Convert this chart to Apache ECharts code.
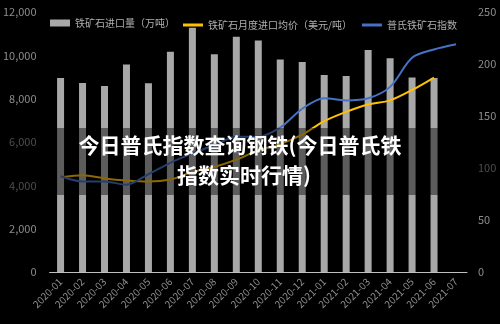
<!DOCTYPE html>
<html>
<head>
<meta charset="utf-8">
<script src="https://cdn.jsdelivr.net/npm/echarts@6/dist/echarts.min.js"></script>
<style>
  html, body { margin: 0; padding: 0; background: #000; }
  #main { width: 500px; height: 324px; }
</style>
</head>
<body>
<div id="main"></div>
<script>
// 月份
const months = ['2020-01', '2020-02', '2020-03', '2020-04', '2020-05', '2020-06', '2020-07',
  '2020-08', '2020-09', '2020-10', '2020-11', '2020-12', '2021-01', '2021-02', '2021-03',
  '2021-04', '2021-05', '2021-06', '2021-07'];
// 铁矿石进口量（万吨）
const importVolume = [8950, 8720, 8580, 9580, 8710, 10170, 11270, 10050, 10860, 10680,
  9810, 9690, 9090, 9050, 10250, 9860, 8980, 8950, null];
// 铁矿石月度进口均价（美元/吨）
const avgPrice = [91, 93, 90, 88, 87, 89, 96, 101, 108, 117, 123, 132, 145, 154, 161, 165, 175, 187, null];
// 普氏铁矿石指数
const plattsIndex = [92, 87, 87, 84, 94, 105, 114, 122, 130, 130, 139, 157, 167, 165, 167, 178, 206, 214, 219];

const leftTicks = { min: 0, max: 12000, interval: 2000 };
const rightTicks = { min: 0, max: 250, interval: 50 };

const chart = echarts.init(document.getElementById('main'));
const labelColor = '#8c8c8c';
const titleFont = 'bold 21px "Noto Sans CJK SC"';
const legendText = { color: '#b0b0b0', fontSize: 10 };
const option = {
  backgroundColor: '#000',
  animation: false,
  textStyle: { fontFamily: '"Noto Sans CJK SC", sans-serif' },
  grid: { left: 45, right: 33, top: 12, bottom: 52 },
  legend: [
    {
      top: 13,
      left: 45,
      itemWidth: 20,
      itemHeight: 7,
      icon: 'rect',
      textStyle: legendText,
      data: ['铁矿石进口量（万吨）']
    },
    {
      // 折线图例只画一条线
      top: 15,
      left: 178,
      itemWidth: 20,
      itemHeight: 3,
      itemGap: 10,
      icon: 'rect',
      textStyle: legendText,
      data: ['铁矿石月度进口均价（美元/吨）', '普氏铁矿石指数']
    }
  ],
  xAxis: {
    type: 'category',
    data: months,
    axisLine: { lineStyle: { color: '#bfbfbf', width: 1 } },
    axisTick: { show: false },
    axisLabel: { color: labelColor, fontSize: 10, rotate: 45, interval: 0, margin: 8 }
  },
  yAxis: [
    {
      type: 'value',
      min: leftTicks.min, max: leftTicks.max, interval: leftTicks.interval,
      splitLine: { show: false },
      axisLine: { show: false },
      axisLabel: { color: labelColor, fontSize: 11, margin: 13,
        formatter: v => v.toLocaleString('en-US') }
    },
    {
      type: 'value',
      min: rightTicks.min, max: rightTicks.max, interval: rightTicks.interval,
      splitLine: { show: false },
      axisLine: { show: false },
      axisLabel: { color: labelColor, fontSize: 11, margin: 11 }
    }
  ],
  series: [
    {
      name: '铁矿石进口量（万吨）',
      type: 'bar',
      data: importVolume,
      barWidth: 7,
      itemStyle: { color: '#a8a8a8' }
    },
    {
      name: '铁矿石月度进口均价（美元/吨）',
      type: 'line',
      yAxisIndex: 1,
      data: avgPrice,
      smooth: 0.3,
      symbol: 'none',
      lineStyle: { color: '#ffc000', width: 2 },
      itemStyle: { color: '#ffc000' }
    },
    {
      name: '普氏铁矿石指数',
      type: 'line',
      yAxisIndex: 1,
      data: plattsIndex,
      smooth: 0.3,
      symbol: 'none',
      lineStyle: { color: '#4472c4', width: 2 },
      itemStyle: { color: '#4472c4' }
    }
  ],
  graphic: [
    {
      type: 'rect',
      left: 0, top: 128,
      shape: { width: 500, height: 67 },
      style: { fill: 'rgba(0,0,0,0.45)' },
      z: 100
    },
    {
      type: 'text',
      x: 240, y: 145,
      style: {
        text: '今日普氏指数查询钢铁(今日普氏铁',
        fill: '#fff',
        font: titleFont,
        align: 'center',
        verticalAlign: 'middle'
      },
      z: 101
    },
    {
      type: 'text',
      x: 244, y: 175,
      style: {
        text: '指数实时行情)',
        fill: '#fff',
        font: titleFont,
        align: 'center',
        verticalAlign: 'middle'
      },
      z: 101
    }
  ]
};
chart.setOption(option);
</script>
</body>
</html>
